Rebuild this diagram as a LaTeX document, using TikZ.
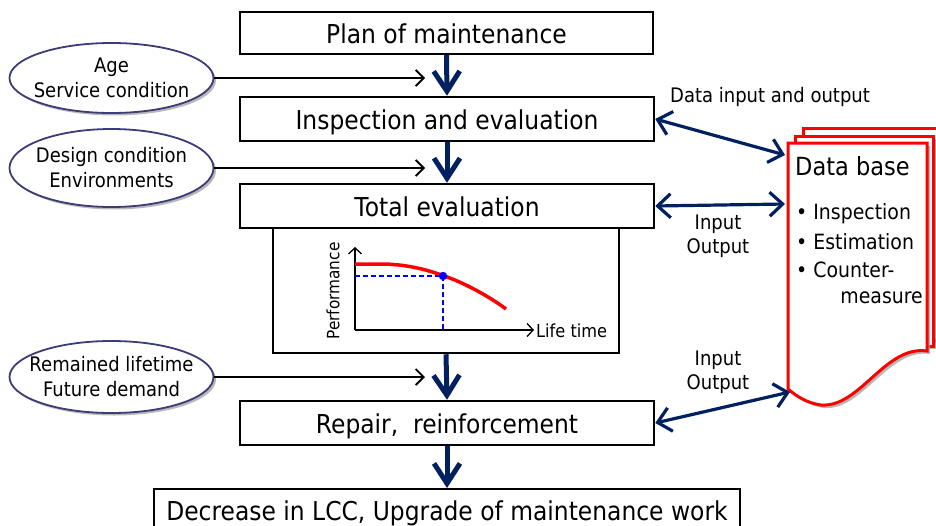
\documentclass[tikz,border=0pt]{standalone}
\usepackage{fontspec}
\setmainfont{DejaVu Sans}[FakeStretch=0.9]
\usetikzlibrary{arrows.meta,shapes.geometric,shadows}
\definecolor{navy}{RGB}{0,32,96}
\definecolor{ovalc}{RGB}{60,60,120}
\definecolor{dbred}{RGB}{255,0,0}
\begin{document}
\begin{tikzpicture}[x=1pt,y=-1pt,
  box/.style={draw=black, line width=2.5pt, fill=white, inner sep=0pt,
    font=\fontsize{26}{30}\selectfont, text height=23pt, text depth=3pt},
  oval/.style={ellipse, draw=ovalc, line width=1.8pt, fill=white, inner sep=0pt,
    minimum width=204pt, drop shadow={fill=gray!70, opacity=0.8, shadow xshift=2.5pt, shadow yshift=-2.5pt}},
  ovaltext/.style={align=center, font=\fontsize{20}{25}\selectfont, inner sep=0pt},
  varrow/.style={draw=navy, line width=5pt, -{Straight Barb[length=20pt,width=26pt]}},
  harrow/.style={draw=black, line width=1.8pt, -{Straight Barb[length=8pt,width=16pt]}},
  darrow/.style={draw=navy, line width=3.2pt, {Straight Barb[length=13pt,width=24pt]}-{Straight Barb[length=13pt,width=24pt]}},
  lbl/.style={font=\fontsize{20}{24}\selectfont, inner sep=0pt, align=center},
  sheet/.style={draw=dbred, line width=3pt, fill=white},
  axis/.style={draw=black, line width=1.3pt, -{Straight Barb[length=6pt,width=13pt]}},
]
\useasboundingbox (0,0) rectangle (936,525);

% ---- main boxes ----
\node[box, line width=2pt, minimum width=413pt, minimum height=42pt] (plan) at (446.5,33) {Plan of maintenance};
\node[box, minimum width=414pt, minimum height=44pt] (insp) at (447,119) {Inspection and evaluation};
\node[box, minimum width=346pt, minimum height=125pt] (gbox) at (446,290.5) {};
\node[box, minimum width=414pt, minimum height=44pt] (total) at (447,206) {Total evaluation};
\node[box, minimum width=414pt, minimum height=44pt] (repair) at (447,423) {Repair,\ \ reinforcement};
\node[box, line width=2pt, minimum width=586pt, minimum height=42pt] (dec) at (447,510) {Decrease in LCC, Upgrade of maintenance work};

% ---- vertical flow arrows ----
\draw[varrow] (plan.south) -- (insp.north);
\draw[varrow] (insp.south) -- (total.north);
\draw[varrow] (gbox.south) -- (repair.north);
\draw[varrow] (repair.south) -- (dec.north);

% ---- ellipses ----
\node[oval, minimum height=70pt] (e1) at (111.5,78) {};
\node[ovaltext] (e1t) at (e1) {Age\\Service condition};
\node[oval, minimum height=78pt] (e2) at (111.5,168) {};
\node[ovaltext] (e2t) at (e2) {Design condition\\Environments};
\node[oval, minimum height=72pt] (e3) at (111.5,377) {};
\node[ovaltext] (e3t) at (e3) {Remained lifetime\\Future demand};

\coordinate (c1) at (425,78);
\coordinate (c2) at (425,168);
\coordinate (c3) at (425,377);
\draw[harrow] (e1.east) -- (c1);
\draw[harrow] (e2.east) -- (c2);
\draw[harrow] (e3.east) -- (c3);

% ---- graph ----
\coordinate (O) at (355,330);
\coordinate (Yt) at (355,247);
\coordinate (Xe) at (534,330);
\draw[axis] (O) -- (Yt);
\draw[axis] (O) -- (Xe);
\draw[blue, line width=1.5pt, dash pattern=on 5pt off 3pt] (355,276) -- (443,276) -- (443,330);
\draw[dbred, line width=3.5pt] (355,264) -- (385,264) .. controls (412,265) and (430,271) .. (443,275.5) .. controls (465,283) and (490,297) .. (506,309);
\fill[blue] (443,276) circle (4.2pt);
\node[font=\fontsize{18}{20}\selectfont, anchor=west, inner sep=0pt] (lt) at (536,331) {Life time};
\node[font=\fontsize{17}{20}\selectfont, rotate=90, inner sep=0pt] (perf) at (333,291) {Performance};

% ---- database ----
\path[sheet, drop shadow={fill=gray!70, opacity=0.8, shadow xshift=3pt, shadow yshift=-3pt}] (803,128) rectangle (960,340);
\path[sheet, drop shadow={fill=gray!70, opacity=0.8, shadow xshift=3pt, shadow yshift=-3pt}] (795,136) rectangle (933,346);
\path[sheet, drop shadow={fill=gray!70, opacity=0.8, shadow xshift=3pt, shadow yshift=-3pt}]
  (788,143) -- (927,143) -- (927,351)
  .. controls (885,345) and (860,408) .. (821,405)
  .. controls (806,403) and (795,395) .. (788,389) -- cycle;
\node[font=\fontsize{25}{28}\selectfont, anchor=west, inner sep=0pt] (dbt) at (795,166) {Data base};
\node[font=\fontsize{21}{24}\selectfont, anchor=west, inner sep=0pt] (b1) at (796,214) {• Inspection};
\node[font=\fontsize{21}{24}\selectfont, anchor=west, inner sep=0pt] (b2) at (796,242) {• Estimation};
\node[font=\fontsize{21}{24}\selectfont, anchor=west, inner sep=0pt] (b3) at (796,270) {• Counter-};
\node[font=\fontsize{21}{24}\selectfont, anchor=east, inner sep=0pt] (b4) at (923,298) {measure};

\coordinate (d1) at (785,155);
\coordinate (d2) at (785,204);
\coordinate (d3) at (790,392);
\draw[darrow] (insp.east) -- (d1);
\draw[darrow] (total.east) -- (d2);
\draw[darrow] (repair.east) -- (d3);

\node[lbl, anchor=west] (l1) at (670,97) {Data input and output};
\node[lbl] (l2) at (718,236) {Input\\Output};
\node[lbl] (l3) at (718,372) {Input\\Output};
\end{tikzpicture}
\end{document}
